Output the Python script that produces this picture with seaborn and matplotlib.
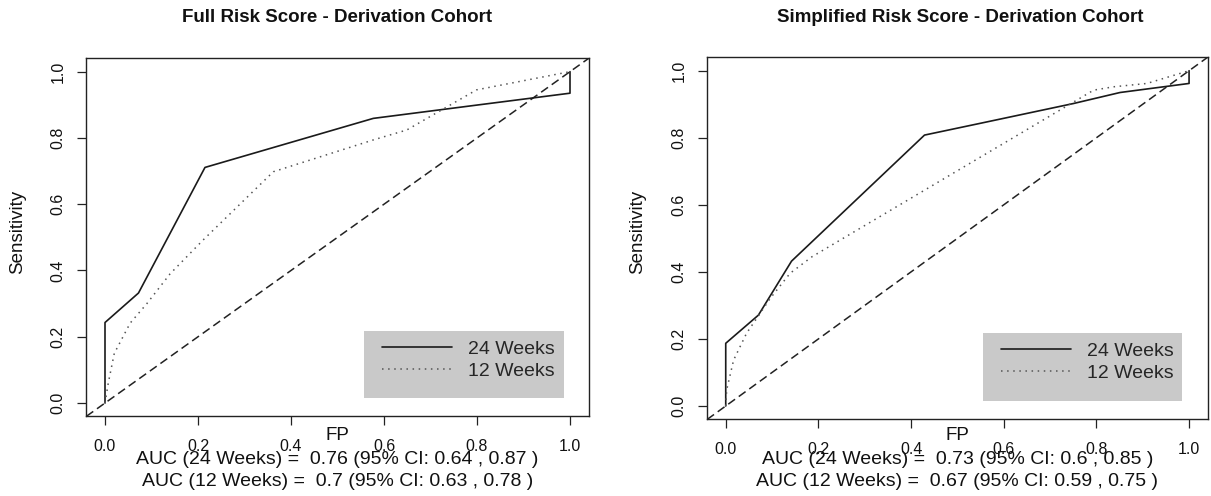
import matplotlib
matplotlib.use("Agg")
import matplotlib.pyplot as plt
import seaborn as sns
import pandas as pd
from matplotlib.patches import Rectangle

# ---------------- data ----------------
titles = ["Full Risk Score - Derivation Cohort", "Simplified Risk Score - Derivation Cohort"]
series_names = ["24 Weeks", "12 Weeks"]
tick_vals = [0.0, 0.2, 0.4, 0.6, 0.8, 1.0]
tick_labels = ["0.0", "0.2", "0.4", "0.6", "0.8", "1.0"]

full_24_fp = [0, 0, 0.072, 0.215, 0.577, 0.799, 1.0, 1.0]
full_24_sens = [0, 0.243, 0.332, 0.711, 0.859, 0.899, 0.935, 1.0]
full_12_fp = [0, 0.007, 0.02, 0.054, 0.09, 0.14, 0.211, 0.362, 0.577, 0.649, 0.799, 1.0]
full_12_sens = [0, 0.06, 0.15, 0.241, 0.30, 0.39, 0.492, 0.698, 0.794, 0.824, 0.945, 1.0]

simp_24_fp = [0, 0, 0.0705, 0.142, 0.429, 0.549, 0.75, 0.851, 1.0, 1.0]
simp_24_sens = [0, 0.187, 0.271, 0.432, 0.808, 0.843, 0.902, 0.935, 0.962, 1.0]
simp_12_fp = [0, 0.002, 0.017, 0.045, 0.074, 0.096, 0.139, 0.186, 0.794, 0.837, 0.909, 1.0]
simp_12_sens = [0, 0.048, 0.137, 0.217, 0.276, 0.321, 0.396, 0.445, 0.942, 0.952, 0.962, 1.0]

auc_text = [
    ["AUC (24 Weeks) =  0.76 (95% CI: 0.64 , 0.87 )", "AUC (12 Weeks) =  0.7 (95% CI: 0.63 , 0.78 )"],
    ["AUC (24 Weeks) =  0.73 (95% CI: 0.6 , 0.85 )", "AUC (12 Weeks) =  0.67 (95% CI: 0.59 , 0.75 )"],
]
panels = [
    (full_24_fp, full_24_sens, full_12_fp, full_12_sens),
    (simp_24_fp, simp_24_sens, simp_12_fp, simp_12_sens),
]

# ---------------- style ----------------
sns.set_theme(style="white")
plt.rcParams["font.family"] = ["Liberation Sans", "DejaVu Sans"]

W, H = 1211, 496
fig = plt.figure(figsize=(W / 100, H / 100), dpi=100)

# axes boxes in pixels: (left, right, top, bottom)
boxes = [(86.4, 588.6, 58.4, 416.3), (707.2, 1207.6, 57.3, 419.4)]
title_x = [337, 960]

for i, (box, pdata) in enumerate(zip(boxes, panels)):
    l, r, t, b = box
    ax = fig.add_axes([l / W, 1 - b / H, (r - l) / W, (b - t) / H])
    fp24, s24, fp12, s12 = pdata
    df24 = pd.DataFrame({"FP": fp24, "Sensitivity": s24})
    df12 = pd.DataFrame({"FP": fp12, "Sensitivity": s12})
    sns.lineplot(data=df24, x="FP", y="Sensitivity", sort=False, estimator=None,
                 color="#1a1a1a", lw=1.2, linestyle="-", label=series_names[0], ax=ax)
    sns.lineplot(data=df12, x="FP", y="Sensitivity", sort=False, estimator=None,
                 color="#555555", lw=1.1, linestyle=(0, (1, 3)), label=series_names[1], ax=ax)
    ax.axline((0, 0), slope=1, color="#222222", lw=1.1, linestyle=(0, (5.5, 3)), zorder=1)

    ax.set_xlim(-0.04, 1.04)
    ax.set_ylim(-0.04, 1.04)
    ax.set_xticks(tick_vals)
    ax.set_xticklabels(tick_labels)
    ax.set_yticks(tick_vals)
    ax.set_yticklabels(tick_labels, rotation=90, va="center")
    ax.tick_params(axis="both", direction="out", length=6.5, width=0.9, color="#222222",
                   labelsize=11.5, labelcolor="#111111", bottom=True, left=True)
    ax.tick_params(axis="x", pad=10)
    ax.tick_params(axis="y", pad=8.5)
    ax.set_xlabel("")
    ax.set_ylabel("")
    for s in ax.spines.values():
        s.set_visible(True)
        s.set_color("#222222")
        s.set_linewidth(1.0)

    # legend background box
    aw, ah = r - l, b - t
    rect_l, rect_r, rect_t, rect_b = [(364, 564, 331, 398), (983, 1182, 333, 401)][i]
    ax.add_patch(Rectangle(((rect_l - l) / aw, (b - rect_b) / ah),
                           (rect_r - rect_l) / aw, (rect_b - rect_t) / ah,
                           transform=ax.transAxes, facecolor="#c9c9c9", edgecolor="none",
                           zorder=3))
    lx = [382, 1001][i]
    ly = [340.5, 342.5][i]
    leg = ax.legend(loc="upper left", bbox_to_anchor=((lx - l) / aw, (b - ly) / ah),
                    frameon=False, fontsize=14, handlelength=3.6, handletextpad=0.8,
                    labelspacing=0.2, borderpad=0, borderaxespad=0)
    leg.set_zorder(4)

    cx = (l + r) / 2
    fig.text(title_x[i] / W, 1 - 18 / H, titles[i], ha="center", va="center",
             fontsize=13.5, fontweight="bold", color="#111111")
    fig.text(cx / W, 1 - 435 / H, "FP", ha="center", va="center", fontsize=13.5, color="#111111")
    fig.text(cx / W, 1 - 460 / H, auc_text[i][0], ha="center", va="center", fontsize=14, color="#111111")
    fig.text(cx / W, 1 - 482 / H, auc_text[i][1], ha="center", va="center", fontsize=14, color="#111111")
    fig.text([18, 638][i] / W, 1 - 232 / H, "Sensitivity", rotation=90, ha="center", va="center",
             fontsize=13.5, color="#111111")

fig.savefig("out.png", dpi=100)
